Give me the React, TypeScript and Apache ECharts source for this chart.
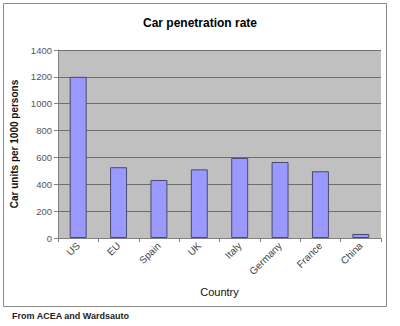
import React, { useEffect, useRef } from "react";
import * as echarts from "echarts";

const categories = ["US", "EU", "Spain", "UK", "Italy", "Germany", "France", "China"];
const values = [1200, 527, 432, 511, 596, 566, 497, 30];
const titleText = "Car penetration rate";
const yName = "Car units per 1000 persons";
const xName = "Country";
const footnote = "From ACEA and Wardsauto";

export default function App() {
  const ref = useRef<HTMLDivElement>(null);
  useEffect(() => {
    if (!ref.current) return;
    const chart = echarts.init(ref.current, null, { renderer: "svg" });
    chart.setOption({
      animation: false,
      backgroundColor: "#ffffff",
      textStyle: { fontFamily: "Arial, 'Liberation Sans', sans-serif" },
      title: {
        text: titleText,
        left: 195,
        top: 12,
        textAlign: "center",
        textStyle: { fontSize: 12, fontWeight: "bold", color: "#000" },
      },
      grid: { left: 58, right: 19, top: 50, bottom: 88, show: true, backgroundColor: "#c0c0c0", borderWidth: 0 },
      xAxis: {
        type: "category",
        data: categories,
        name: xName,
        nameLocation: "middle",
        nameGap: 48,
        nameTextStyle: { fontSize: 11, color: "#111" },
        axisLine: { lineStyle: { color: "#808080" } },
        axisTick: { show: true, alignWithLabel: false, length: 4, lineStyle: { color: "#808080" } },
        axisLabel: { rotate: 45, fontSize: 10, color: "#444", margin: 6 },
      },
      yAxis: {
        type: "value",
        min: 0,
        max: 1400,
        interval: 200,
        name: yName,
        nameLocation: "middle",
        nameGap: 34,
        nameTextStyle: { fontSize: 10, fontWeight: "bold", color: "#111" },
        axisLine: { show: true, lineStyle: { color: "#808080" } },
        axisTick: { show: true, length: 4, lineStyle: { color: "#808080" } },
        axisLabel: { fontSize: 9.5, color: "#555", margin: 6, formatter: (v: number) => String(v) },
        splitLine: { lineStyle: { color: "#6e6e6e", width: 1 } },
      },
      series: [
        {
          type: "bar",
          data: values,
          barWidth: "42%",
          itemStyle: { color: "#9999ff", borderColor: "#4a4a6a", borderWidth: 1 },
        },
      ],
      graphic: [
        {
          type: "rect",
          shape: { x: 3.5, y: 3.5, width: 383, height: 303 },
          style: { fill: "none", stroke: "#8a8a8a", lineWidth: 1 },
          silent: true,
        },
        {
          type: "text",
          left: 12,
          top: 311,
          style: { text: footnote, fontSize: 9, fontWeight: "bold", fill: "#222", fontFamily: "Arial, 'Liberation Sans', sans-serif" },
        },
      ],
    });
    return () => chart.dispose();
  }, []);
  return <div ref={ref} style={{ position: "fixed", left: 0, top: 0, width: 400, height: 326 }} />;
}
